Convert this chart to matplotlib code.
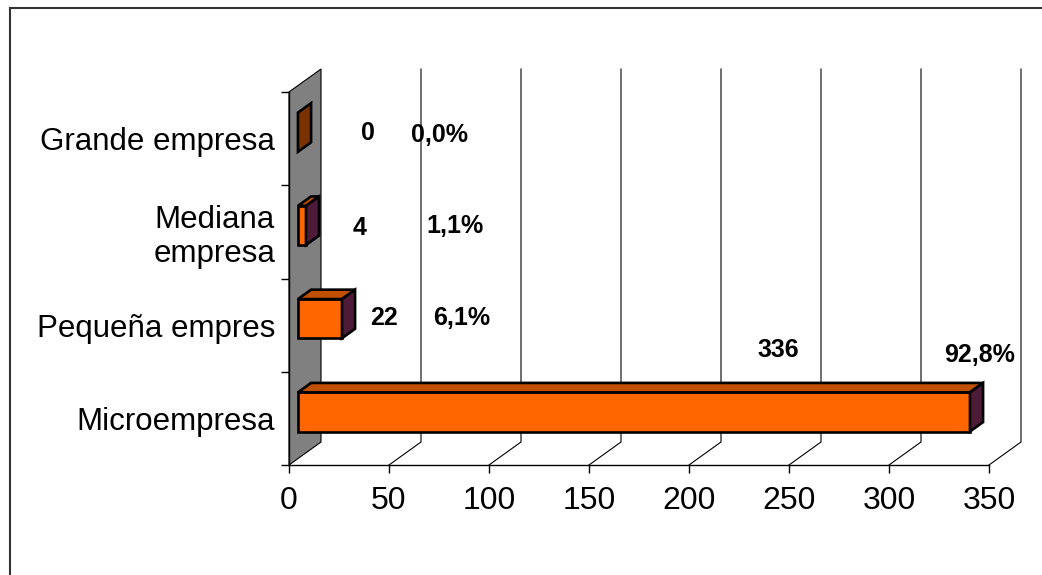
import matplotlib.pyplot as plt
from matplotlib.patches import Polygon
from matplotlib.lines import Line2D

plt.rcParams['font.family'] = ['Liberation Sans', 'DejaVu Sans']

categorias = ['Microempresa', 'Pequeña empres', 'Mediana\nempresa', 'Grande empresa']
cantidades = [336, 22, 4, 0]
total = sum(cantidades)
porcentajes = [f'{c / total * 100:.1f}%'.replace('.', ',') for c in cantidades]

# posiciones de las etiquetas (como en Excel)
pos_cant = [(244.5, 0.73), (47.5, 1.08), (35.5, 2.04), (39.5, 3.06)]
pos_porc = [(345.5, 0.68), (86.5, 1.08), (83, 2.06), (75.5, 3.04)]

c_frente = '#FF6600'
c_techo = '#C04F00'
c_lado = '#4D1A38'
c_cero = '#7A3300'

fig = plt.figure(figsize=(10.42, 5.75), dpi=100)
ax = fig.add_axes([289 / 1042, (575 - 465) / 575, 700 / 1042, 373 / 575])
ax.set_xlim(0, 350)
ax.set_ylim(-0.5, 3.5)
ax.patch.set_visible(False)

# profundidad 3D en unidades de datos
DX = 16
DY = 23 / 93.25


def p(x, y, f):
    return (x + DX * f, y + DY * f)


# pared gris
ax.add_patch(Polygon([p(0, -0.5, 0), p(0, 3.5, 0), p(0, 3.5, 1), p(0, -0.5, 1)],
                     closed=True, fc='#808080', ec='black', lw=0.8, clip_on=False, zorder=1))
# lineas de division
for xv in range(50, 351, 50):
    a, b, c = p(xv, -0.5, 0), p(xv, -0.5, 1), p(xv, 3.5, 1)
    ax.plot([a[0], b[0], c[0]], [a[1], b[1], c[1]], color='black', lw=0.8,
            clip_on=False, zorder=1)

h = 0.21
f0, f1 = 0.28, 0.69
for i, v in enumerate(cantidades):
    y0, y1 = i - h, i + h
    ec = dict(ec='black', lw=1.9, clip_on=False, zorder=3, joinstyle='miter')
    if v > 0:
        ax.add_patch(Polygon([p(0, y0, f0), p(v, y0, f0), p(v, y1, f0), p(0, y1, f0)],
                             fc=c_frente, **ec))
        ax.add_patch(Polygon([p(0, y1, f0), p(v, y1, f0), p(v, y1, f1), p(0, y1, f1)],
                             fc=c_techo, **ec))
    ax.add_patch(Polygon([p(v, y0, f0), p(v, y1, f0), p(v, y1, f1), p(v, y0, f1)],
                         fc=c_lado if v > 0 else c_cero, **ec))
    ax.text(*pos_cant[i], str(v), fontsize=18, fontweight='bold', ha='center', va='center')
    ax.text(*pos_porc[i], porcentajes[i], fontsize=18, fontweight='bold', ha='center', va='center')

for s in ['top', 'right']:
    ax.spines[s].set_visible(False)
for s in ['bottom', 'left']:
    ax.spines[s].set_linewidth(1)
    ax.spines[s].set_zorder(4)

ax.set_xticks(range(0, 351, 50))
ax.tick_params(axis='x', direction='out', length=6, width=1, labelsize=23, pad=9)
ax.set_yticks([-0.5, 0.5, 1.5, 2.5, 3.5])
ax.set_yticklabels([])
ax.tick_params(axis='y', which='major', direction='out', length=6, width=1)
ax.set_yticks(range(4), minor=True)
ax.set_yticklabels(categorias, minor=True, fontsize=22.5, linespacing=1.15)
ax.tick_params(axis='y', which='minor', length=0, pad=10)

# borde del area del grafico
fig.add_artist(Line2D([9.5 / 1042, 9.5 / 1042], [0, 1 - 8 / 575], color='#333333', lw=1.5))
fig.add_artist(Line2D([9.5 / 1042, 1], [1 - 8 / 575, 1 - 8 / 575], color='#333333', lw=1.5))

fig.savefig('out.png', dpi=100)
